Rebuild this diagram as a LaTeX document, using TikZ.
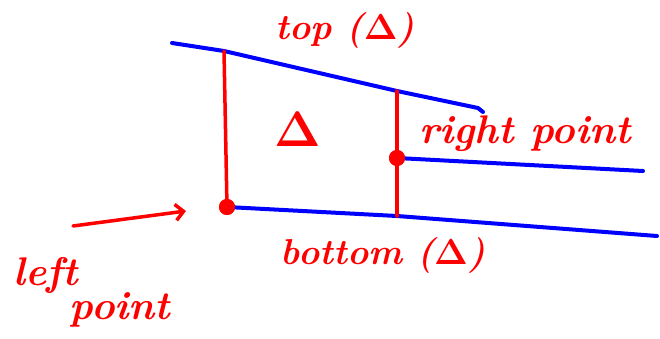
\documentclass[tikz,border=0pt]{standalone}
\usetikzlibrary{arrows.meta}
\newcommand{\bigdel}[1]{\scalebox{#1}{$\mathbf{\Delta}$}}
\begin{document}
\begin{tikzpicture}[x=1pt,y=-1pt,
  blueline/.style={draw=blue,line width=4pt,line cap=round,line join=round},
  redline/.style={draw=red,line width=3.5pt,line cap=round,line join=round},
  dotred/.style={circle,fill=red,inner sep=0pt,minimum size=16pt},
  hand/.style={text=red,inner sep=0pt,font=\fontsize{40}{42}\selectfont\bfseries\itshape},
  handsm/.style={hand,font=\fontsize{36}{38}\selectfont\bfseries\itshape}]
\useasboundingbox (0,0) rectangle (660,339);
% coordinates
\coordinate (tl) at (172,43);
\coordinate (ta) at (224,51);
\coordinate (tb) at (397,91);
\coordinate (tr) at (483,112);
\coordinate (bb) at (397,216);
\coordinate (br) at (657,236);
\coordinate (mr) at (643,171);
\coordinate (as) at (73,226);
\coordinate (ae) at (186,211);
% dots
\node[dotred] (lp) at (227,207) {};
\node[dotred] (rp) at (397,158) {};
% blue lines
\draw[blueline] (tl) -- (ta) -- (tb) -- (478,108) -- (tr);
\draw[blueline] (lp.center) -- (bb) -- (br);
\draw[blueline] (rp.center) -- (mr);
% red lines
\draw[redline] (ta) -- (lp.center);
\draw[redline] (tb) -- (rp.center) -- (bb);
\draw[redline,-{Straight Barb[length=8pt,width=16pt]}] (as) -- (ae);
\node[dotred] at (lp) {};
\node[dotred] at (rp) {};
% labels
\node[hand] (delta) at (298,129) {\bigdel{2}};
\node[handsm] (top) at (345,30) {top (\bigdel{1.45})};
\node[hand] (right) at (525,134) {right point};
\node[handsm] (bottom) at (383,255) {bottom (\bigdel{1.45})};
\node[hand,align=left] (left) at (92,292) {left\\[-8pt]\hspace*{1.4em}point};
\end{tikzpicture}
\end{document}
